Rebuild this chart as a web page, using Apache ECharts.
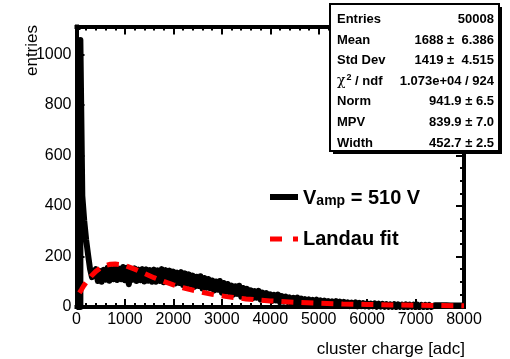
<!DOCTYPE html>
<html>
<head>
<meta charset="utf-8">
<script src="https://cdn.jsdelivr.net/npm/echarts@6/dist/echarts.min.js"></script>
<style>
html,body{margin:0;padding:0;background:#fff;}
#chart{width:510px;height:359px;}
</style>
</head>
<body>
<div id="chart"></div>
<script>
// Cluster charge spectrum: histogram in 40 adc bins, starting at 0 adc
const binWidth = 40;
const counts = [
  0, 0, 1057, 440, 340,
  265, 205, 150, 118, 140,
  150, 103, 143, 100, 147,
  108, 155, 104, 150, 110,
  157, 107, 152, 110, 158,
  106, 155, 90, 150, 108,
  153, 103, 148, 106, 150,
  101, 149, 104, 146, 100,
  148, 100, 145, 103, 150,
  98, 146, 101, 144, 99,
  140, 93, 136, 95, 138,
  87, 133, 90, 129, 88,
  124, 80, 120, 83, 122,
  73, 115, 76, 111, 74,
  105, 65, 101, 68, 103,
  57, 95, 60, 91, 58,
  85, 49, 82, 52, 84,
  41, 75, 44, 72, 42,
  66, 35, 63, 37, 64,
  29, 57, 31, 55, 30,
  50, 24, 48, 26, 49,
  19, 43, 21, 41, 20,
  38, 16, 36, 18, 37,
  13, 33, 14, 31, 13,
  30, 10, 28, 11, 29,
  8, 26, 9, 25, 8,
  23, 7, 22, 8, 23,
  5, 21, 6, 20, 5,
  18, 4, 17, 5, 18,
  3, 16, 4, 15, 3,
  14, 2, 13, 3, 14,
  1, 13, 2, 12, 1,
  11, 1, 10, 1, 11,
  0, 10, 1, 9, 0,
  10, 0, 9, 1, 9,
  0, 9, 0, 8, 0,
  8, 0, 8, 0, 7,
  0, 7, 0, 7, 0,
  7, 0, 6, 0, 6,
  0, 6, 0, 6, 0
];

// Landau fit curve
const fitX = [60, 100, 150, 200, 300, 400, 500, 600, 700, 800, 900, 1000, 1200, 1400, 1600, 1800,
              2000, 2200, 2500, 2800, 3100, 3500, 4000, 4500, 5000, 5500, 6000, 6500, 7000, 7500, 8000];
const fitY = [56, 68, 84, 98, 122, 141, 155, 164, 169, 170, 168, 164, 150, 133, 116, 101,
              88, 76, 62, 50, 41, 32, 24, 19, 15, 12, 10, 8, 7, 6, 5];

// Axis ranges
const xRange = [0, 8000];
const yRange = [0, 1110];
const xStep = 1000;
const yStep = 200;

// Statistics box
const statsLabels = ['Entries', 'Mean', 'Std Dev', '{g|\u03c7}{sup|2}{b| / ndf}', 'Norm', 'MPV', 'Width'];
const statsValues = ['50008', '1688 \u00b1  6.386', '1419 \u00b1  4.515', '1.073e+04 / 924',
                     '941.9 \u00b1 6.5', '839.9 \u00b1 7.0', '452.7 \u00b1 2.5'];

const histName = 'Vamp = 510 V';
const fitName = 'Landau fit';
const xTitle = 'cluster charge [adc]';
const yTitle = 'entries';

const FONT = '"Liberation Sans", Arial, Helvetica, sans-serif';

// Step outline of the histogram built from bin edges
const histLine = [];
counts.forEach((c, i) => {
  histLine.push([i * binWidth, c]);
  histLine.push([(i + 1) * binWidth, c]);
});
const fitLine = fitX.map((x, i) => [x, fitY[i]]);

const plain = v => String(v);

function frameLine() {
  return { onZero: false, lineStyle: { color: '#000', width: 4, cap: 'square' } };
}
function xAxisDef(pos, labels) {
  return {
    type: 'value', position: pos, min: xRange[0], max: xRange[1], interval: xStep,
    axisLine: frameLine(),
    axisTick: { show: true, inside: true, length: 8, lineStyle: { color: '#000', width: 2 } },
    minorTick: { show: true, splitNumber: 5, length: 4, lineStyle: { color: '#000', width: 2 } },
    splitLine: { show: false }, minorSplitLine: { show: false },
    axisLabel: { show: labels, color: '#000', fontSize: 16, fontFamily: FONT, margin: 5, formatter: plain }
  };
}
function yAxisDef(pos, labels) {
  return {
    type: 'value', position: pos, min: yRange[0], max: yRange[1], interval: yStep,
    axisLine: frameLine(),
    axisTick: { show: true, inside: true, length: 8, lineStyle: { color: '#000', width: 2 } },
    minorTick: { show: true, splitNumber: 4, length: 4, lineStyle: { color: '#000', width: 2 } },
    splitLine: { show: false }, minorSplitLine: { show: false },
    axisLabel: { show: labels, color: '#000', fontSize: 16, fontFamily: FONT, margin: 5, showMaxLabel: false, formatter: plain }
  };
}

// Stats box elements, drawn above the frame
const TOP_Z = 100;
const boxX = 330, boxY = 4, boxW = 169, boxH = 147;
const statsEls = [
  { type: 'rect', z: TOP_Z, shape: { x: boxX + 3, y: boxY + 3, width: boxW, height: boxH }, style: { fill: '#000' } },
  { type: 'rect', z: TOP_Z + 1, shape: { x: boxX, y: boxY, width: boxW, height: boxH }, style: { fill: '#fff', stroke: '#000', lineWidth: 2 } }
];
const richStats = {
  b: { fontSize: 13, fontWeight: 'bold', fontFamily: FONT, fill: '#000' },
  g: { fontSize: 14, fontWeight: 'normal', fontFamily: '"DejaVu Serif", serif', fill: '#000' },
  sup: { fontSize: 9, fontWeight: 'bold', fontFamily: FONT, fill: '#000', padding: [0, 0, 7, 1] }
};
statsLabels.forEach((lab, i) => {
  const y = boxY + 15.5 + 20.6 * i;
  statsEls.push({
    type: 'text', z: TOP_Z + 2, x: boxX + 7, y: y,
    style: { text: lab, fill: '#000', font: 'bold 13px ' + FONT, align: 'left', verticalAlign: 'middle', rich: richStats }
  });
  statsEls.push({
    type: 'text', z: TOP_Z + 2, x: boxX + boxW - 5, y: y,
    style: { text: statsValues[i], fill: '#000', font: 'bold 13px ' + FONT, align: 'right', verticalAlign: 'middle' }
  });
});

const chart = echarts.init(document.getElementById('chart'), null, { renderer: 'canvas' });
chart.setOption({
  animation: false,
  backgroundColor: '#fff',
  grid: { left: 76.5, right: 46, top: 26.5, bottom: 52, containLabel: false },
  xAxis: [xAxisDef('bottom', true), xAxisDef('top', false)],
  yAxis: [yAxisDef('left', true), yAxisDef('right', false)],
  legend: [
    {
      data: [histName], left: 270, top: 188, padding: 0, itemWidth: 28, itemHeight: 6,
      selectedMode: false,
      icon: 'path://M0,0H28V6H0Z',
      formatter: () => '{v|V}{s|amp}{v| = 510 V}',
      textStyle: {
        color: '#000',
        rich: {
          v: { fontSize: 20, fontWeight: 'bold', fontFamily: FONT, color: '#000', lineHeight: 22, verticalAlign: 'bottom' },
          s: { fontSize: 14, fontWeight: 'bold', fontFamily: FONT, color: '#000', lineHeight: 14, verticalAlign: 'bottom' }
        }
      }
    },
    {
      data: [fitName], left: 270, top: 229, padding: 0, itemWidth: 28, itemHeight: 5,
      selectedMode: false,
      icon: 'path://M0,0H12V5H0Z M23,0H28V5H23Z',
      textStyle: { color: '#000', fontSize: 20, fontWeight: 'bold', fontFamily: FONT }
    }
  ],
  series: [
    {
      name: histName, type: 'line', data: histLine, symbol: 'none', showSymbol: false,
      xAxisIndex: 0, yAxisIndex: 0, z: 3,
      lineStyle: { color: '#000', width: 6, join: 'round' }, itemStyle: { color: '#000' }
    },
    {
      name: fitName, type: 'line', data: fitLine, symbol: 'none', showSymbol: false,
      xAxisIndex: 0, yAxisIndex: 0, z: 4,
      lineStyle: { color: '#ff0000', width: 5, type: [12, 8] }, itemStyle: { color: '#ff0000' }
    }
  ],
  graphic: [
    { type: 'text', x: 465, y: 349, style: { text: xTitle, fill: '#000', font: '17px ' + FONT, align: 'right', verticalAlign: 'middle' } },
    { type: 'text', x: 32, y: 25, rotation: Math.PI / 2, style: { text: yTitle, fill: '#000', font: '17px ' + FONT, align: 'right', verticalAlign: 'middle' } },
    { type: 'group', children: statsEls }
  ]
});
</script>
</body>
</html>
